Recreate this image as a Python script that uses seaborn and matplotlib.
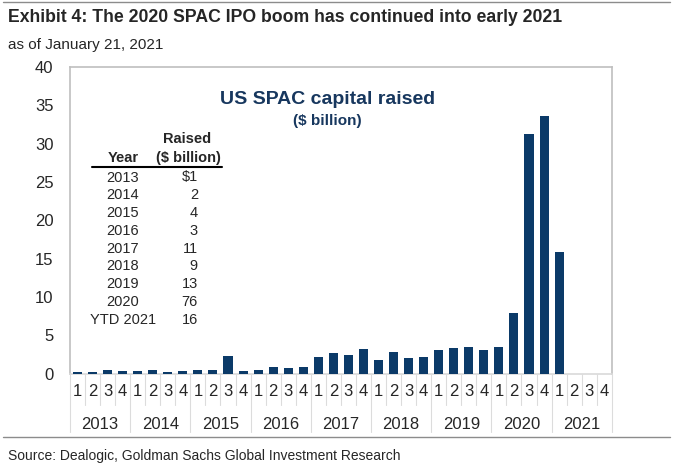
import numpy as np
import pandas as pd
import seaborn as sns
import matplotlib.pyplot as plt
import matplotlib.transforms as mtransforms

# quarterly US SPAC capital raised, $ billion
years = ["2013", "2014", "2015", "2016", "2017", "2018", "2019", "2020", "2021"]
quarters = ["1", "2", "3", "4"]
raised = [0.25, 0.25, 0.55, 0.35,
          0.35, 0.5, 0.3, 0.35,
          0.55, 0.45, 2.3, 0.35,
          0.55, 0.9, 0.8, 0.85,
          2.25, 2.7, 2.5, 3.3,
          1.8, 2.9, 2.1, 2.15,
          3.05, 3.35, 3.55, 3.05,
          3.55, 7.95, 31.3, 33.6,
          15.9, 0, 0, 0]

# inset table
table_years = ["2013", "2014", "2015", "2016", "2017", "2018", "2019", "2020", "YTD 2021"]
table_vals = ["$1", "2", "4", "3", "11", "9", "13", "76", "16"]

navy = "#0b3a68"
grey = "#bfbfbf"

df = pd.DataFrame({
    "period": [f"{y} Q{q}" for y in years for q in quarters],
    "quarter": [q for y in years for q in quarters],
    "value": raised,
})

sns.set_style("white")
plt.rcParams["font.family"] = ["Liberation Sans", "DejaVu Sans"]

fig = plt.figure(figsize=(6.73, 4.65), dpi=100)
ax = fig.add_axes([0.104, 0.196, 0.805, 0.660])

sns.barplot(data=df, x="period", y="value", color=navy, width=0.6,
            saturation=1, linewidth=0, ax=ax, zorder=3)

ax.set_ylim(0, 40)
ax.set_xlim(-0.5, len(df) - 0.5)
ax.set_yticks(range(0, 41, 5))
ax.tick_params(axis="y", length=0, labelsize=12, pad=12)
ax.set_xticks(range(len(df)))
ax.set_xticklabels(df["quarter"], fontsize=12)
ax.tick_params(axis="x", length=0, pad=7)
ax.set_xlabel("")
ax.set_ylabel("")
for s in ax.spines.values():
    s.set_color(grey)
    s.set_linewidth(1.2)
    s.set_zorder(0)
ax.spines["bottom"].set_color("#d9d9d9")

# separators under the axis
trans = mtransforms.blended_transform_factory(ax.transData, ax.transAxes)
for i in range(len(df) + 1):
    low = -0.19 if i % 4 == 0 else -0.1
    ax.plot([i - 0.5, i - 0.5], [0, low], color="#dcdcdc", lw=0.8,
            transform=trans, clip_on=False)
for k, y in enumerate(years):
    ax.text(4 * k + 1.5, -0.165, y, transform=trans, ha="center",
            va="center", fontsize=12)

# inner title
ax.text(0.475, 0.895, "US SPAC capital raised", transform=ax.transAxes,
        ha="center", va="center", fontsize=14, fontweight="bold", color="#17375e")
ax.text(0.475, 0.823, "($ billion)", transform=ax.transAxes,
        ha="center", va="center", fontsize=11, fontweight="bold", color="#17375e")

# inset table in figure pixels
H = 465.0
def fy(py):
    return 1 - py / H

fig.text(187 / 673, fy(139), "Raised", ha="center", va="center",
         fontsize=10.5, fontweight="bold")
fig.text(123 / 673, fy(158), "Year", ha="center", va="center",
         fontsize=10.5, fontweight="bold")
fig.text(188 / 673, fy(158), "($ billion)", ha="center", va="center",
         fontsize=10.5, fontweight="bold")
fig.add_artist(plt.Line2D([92 / 673, 222 / 673], [fy(167), fy(167)],
                          color="black", lw=1.5))
for r, (ty, tv) in enumerate(zip(table_years, table_vals)):
    yy = fy(177.5 + r * 17.75)
    fig.text(123 / 673, yy, ty, ha="center", va="center", fontsize=10.5)
    fig.text(198 / 673, yy, tv, ha="right", va="center", fontsize=10.5)

# header / footer
fig.add_artist(plt.Line2D([0.005, 0.995], [fy(2), fy(2)], color="#8c8c8c", lw=1))
fig.text(8 / 673, fy(18), "Exhibit 4: The 2020 SPAC IPO boom has continued into early 2021",
         ha="left", va="center", fontsize=12.7, fontweight="bold")
fig.text(8 / 673, fy(45), "as of January 21, 2021", ha="left", va="center", fontsize=11)
fig.add_artist(plt.Line2D([0.005, 0.995], [fy(437), fy(437)], color="#8c8c8c", lw=1))
fig.text(8 / 673, fy(456), "Source: Dealogic, Goldman Sachs Global Investment Research",
         ha="left", va="center", fontsize=10)

fig.savefig("out.png", dpi=100)
